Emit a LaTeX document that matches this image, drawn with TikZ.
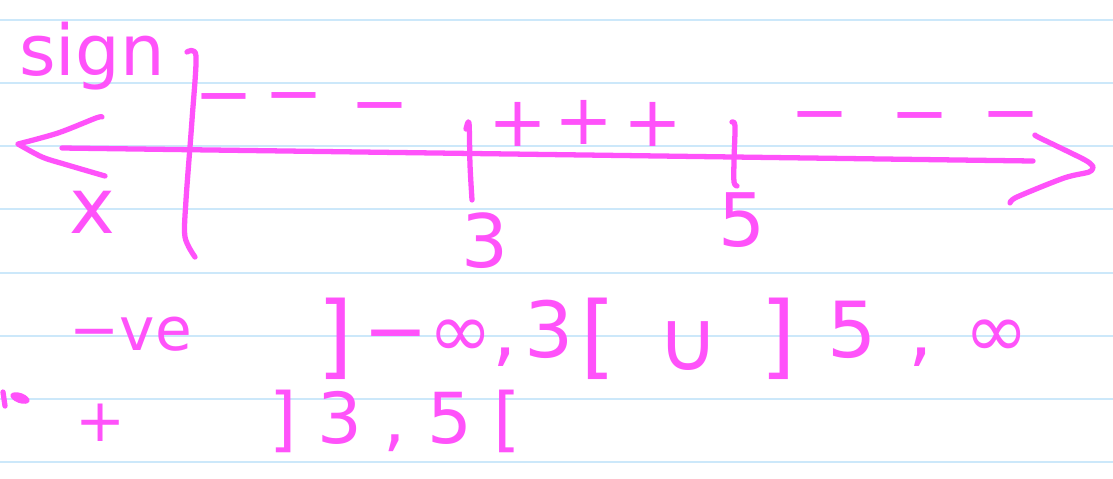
\documentclass[tikz,border=0pt]{standalone}
\usepackage{fontspec}
\setmainfont{DejaVu Sans}
\definecolor{ink}{RGB}{255,82,250}
\definecolor{ruled}{RGB}{204,232,250}
\newcommand\mybrk[1]{{\fontsize{26}{26}\selectfont\raisebox{-3pt}{#1}}}
\begin{document}
\begin{tikzpicture}[x=0.01cm,y=-0.01cm,
  pen/.style={draw=ink, line width=1.5pt, line cap=round, line join=round},
  rule/.style={draw=ruled, line width=0.6pt},
  lbl/.style={text=ink, inner sep=0pt, anchor=base},
  sgn/.style={text=ink, inner sep=0pt, font=\fontsize{20}{24}\selectfont}]
\useasboundingbox (0,0) rectangle (1113,478);
\fill[white] (0,0) rectangle (1113,478);
% ruled paper
\foreach \yy in {20,83,146,209,273,336,399,462}
  \draw[rule] (0,\yy) -- (1113,\yy);

% number line
\coordinate (axA) at (62,148);
\coordinate (axB) at (1033,161);
\coordinate (tipL) at (18,144);
\coordinate (tipR) at (1093,167);
\draw[pen] (axA) -- (axB);
\draw[pen] plot[smooth,tension=0.5] coordinates {(102,117) (96,118) (58,133) (18,144)}
           plot[smooth,tension=0.5] coordinates {(18,144) (42,157) (64,164) (105,176)};
\draw[pen] plot[smooth,tension=0.5] coordinates {(1035,135) (1040,138) (1085,160) (1093,167)}
           plot[smooth,tension=0.5] coordinates {(1093,167) (1089,172) (1064,178) (1017,197) (1010,203)};
% bar after sign column
\draw[pen] plot[smooth,tension=0.5] coordinates {(187,52) (196,56) (192,120) (186,200) (185,237) (195,257)};
% ticks
\draw[pen] plot[smooth,tension=0.5] coordinates {(466,129) (469,123) (470,165) (472,200)};
\draw[pen] plot[smooth,tension=0.5] coordinates {(732,122) (735,126) (734,160) (734,182) (737,186)};

% labels
\node[lbl, font=\fontsize{20}{24}\selectfont] (sign) at (92,75) {sign};
\node[lbl, font=\fontsize{22}{26}\selectfont] (xlab) at (92,233) {x};
\node[lbl, font=\fontsize{21}{25}\selectfont] (three) at (485,267) {3};
\node[lbl, font=\fontsize{21}{25}\selectfont] (five) at (742,246) {5};

% signs
\node[sgn] (m1) at (224,106) {−};
\node[sgn] (m2) at (294,105) {−};
\node[sgn] (m3) at (380,115) {−};
\node[sgn] (p1) at (518,124) {+};
\node[sgn] (p2) at (584,122) {+};
\node[sgn] (p3) at (653,124) {+};
\node[sgn] (m4) at (820,124) {−};
\node[sgn] (m5) at (920,125) {−};
\node[sgn] (m6) at (1011,124) {−};

% solution rows
\node[lbl, font=\fontsize{17}{20}\selectfont] (neg) at (131,350) {−ve};
\node[lbl, font=\fontsize{22}{26}\selectfont] (int1) at (467,357) {\mybrk{]}\hspace{3pt}−∞,\hspace{2pt}3\hspace{2pt}\mybrk{[}};
\node[lbl, font=\fontsize{24}{28}\selectfont] (cup) at (688,370) {∪};
\node[lbl, font=\fontsize{22}{26}\selectfont] (int2) at (895,357) {\mybrk{]}\hspace{9pt}5\hspace{9pt},\hspace{9pt}∞};
\node[lbl, font=\fontsize{17}{20}\selectfont] (pos) at (101,441) {+};
\node[lbl, font=\fontsize{20}{24}\selectfont] (int3) at (395,443) {]\hspace{6pt}3\hspace{6pt},\hspace{6pt}5\hspace{6pt}[};

% stray mark at left edge
\draw[pen] (3,392) -- (5,406);
\fill[ink, rotate around={-20:(20,398)}] (20,398) ellipse [x radius=10, y radius=5];
\end{tikzpicture}
\end{document}
